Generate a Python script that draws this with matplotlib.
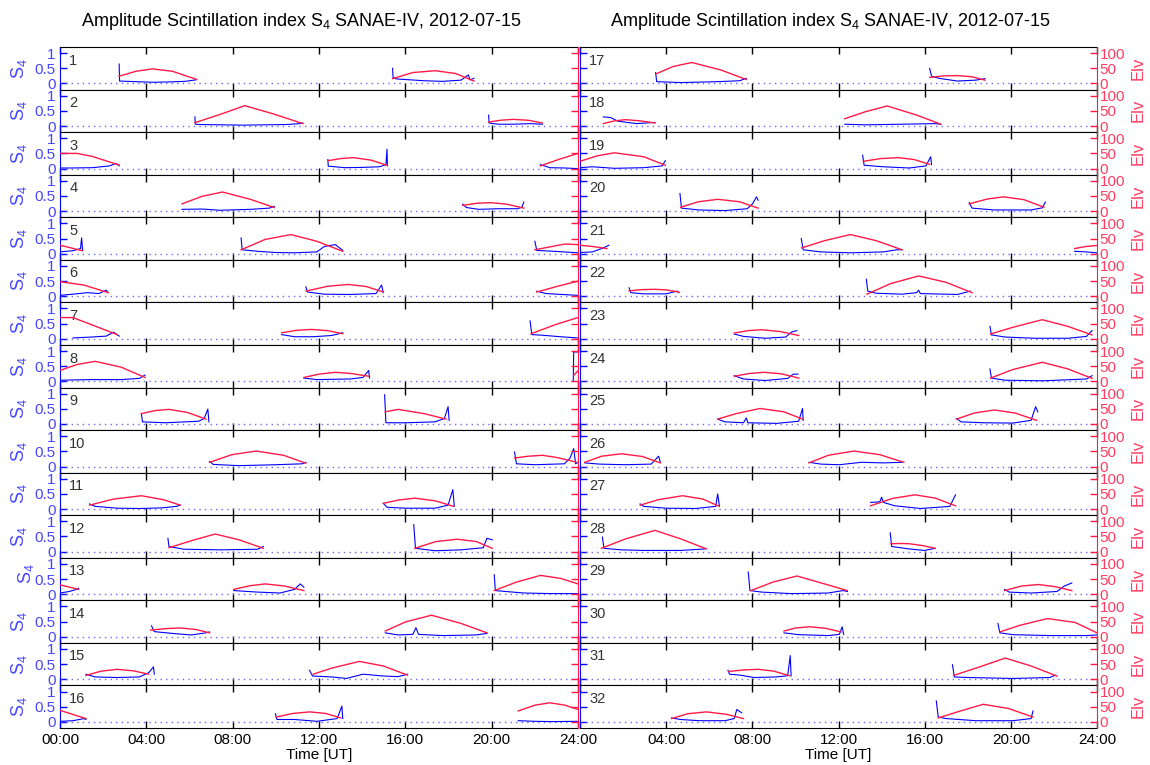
import matplotlib
matplotlib.use("Agg")
import matplotlib.pyplot as plt

plt.rcParams["font.family"] = ["Liberation Sans", "DejaVu Sans"]
plt.rcParams["mathtext.default"] = "regular"

# --- data: one entry per satellite (PRN 1..32), one sub-list per pass
elv_hours = [
    [[2.74, 3.51, 4.28, 5.22, 6.34], [15.41, 16.35, 17.38, 18.32, 19.18]],
    [[6.25, 7.45, 8.56, 9.93, 11.25], [19.86, 20.4, 20.98, 21.7, 22.35]],
    [[0, 0.8, 1.5, 2.2, 2.74], [12.41, 13.0, 13.61, 14.4, 15.15], [22.26, 23.1, 24]],
    [[5.65, 6.59, 7.53, 8.82, 9.93], [18.66, 19.3, 19.95, 20.7, 21.49]],
    [[0, 1.03], [8.39, 9.5, 10.7, 11.9, 13.1], [22.0, 23.4, 24]],
    [[0, 1.11, 2.23], [11.39, 12.4, 13.36, 14.2, 14.98], [22.09, 23.0, 24]],
    [[0, 0.6, 1.63, 2.65], [10.27, 10.95, 11.64, 12.4, 13.1], [21.83, 23.0, 24]],
    [[0, 0.8, 1.63, 2.83, 3.94], [11.3, 12.0, 12.76, 13.5, 14.3], [23.8, 24.0]],
    [[3.77, 4.4, 5.05, 5.9, 6.76], [15.07, 15.67, 16.87, 17.89]],
    [[6.93, 7.96, 9.08, 10.36, 11.39], [21.06, 21.7, 22.35, 23.0, 23.9]],
    [[1.37, 2.48, 3.77, 4.79, 5.57], [14.98, 15.7, 16.44, 17.4, 18.24]],
    [[5.05, 6.08, 7.19, 8.3, 9.42], [16.44, 17.4, 18.41, 19.3, 20.03]],
    [[0, 0.86], [8.05, 8.8, 9.5, 10.4, 11.3], [20.12, 21.15, 22.26, 23.2, 24]],
    [[4.2, 4.9, 5.57, 6.3, 6.93], [15.07, 16.01, 17.21, 18.58, 19.78]],
    [[1.2, 1.9, 2.65, 3.4, 4.11], [11.73, 12.59, 13.87, 14.98, 16.1]],
    [[0, 1.2], [10.02, 10.8, 11.56, 12.3, 13.01], [21.23, 22.0, 22.69, 23.4, 24]],
    [[3.51, 4.33, 5.19, 6.56, 7.72], [16.23, 16.9, 17.52, 18.2, 18.8]],
    [[1.08, 1.6, 2.11, 2.8, 3.48], [12.29, 13.24, 14.26, 15.63, 16.75]],
    [[0, 0.8, 1.59, 2.96, 3.96], [13.15, 13.95, 14.78, 15.5, 16.23]],
    [[4.67, 5.5, 6.39, 7.4, 8.27], [18.07, 18.9, 19.66, 20.6, 21.54]],
    [[0, 0.57, 1.25], [10.29, 11.35, 12.55, 13.75, 14.95], [22.96, 23.5, 24]],
    [[2.28, 2.9, 3.48, 4.0, 4.59], [13.32, 14.43, 15.72, 16.99, 18.2]],
    [[7.16, 7.8, 8.44, 9.3, 10.15], [19.06, 20.09, 21.46, 22.65, 23.77]],
    [[7.16, 7.85, 8.53, 9.35, 10.15], [19.06, 20.09, 21.46, 22.65, 23.77]],
    [[6.39, 7.24, 8.36, 9.47, 10.33], [17.48, 18.3, 19.23, 20.2, 21.2]],
    [[0.22, 1.0, 1.93, 2.9, 3.73], [10.63, 11.52, 12.72, 13.92, 15.03]],
    [[2.79, 3.64, 4.76, 5.7, 6.47], [13.49, 14.5, 15.55, 16.5, 17.43]],
    [[0.99, 2.11, 3.48, 4.68, 5.87], [14.43, 14.9, 15.29, 15.9, 16.49]],
    [[7.93, 8.96, 10.07, 11.35, 12.41], [19.71, 20.5, 21.28, 22.05, 22.83]],
    [[9.47, 10.0, 10.67, 11.4, 12.12], [19.49, 20.43, 21.71, 22.99, 24]],
    [[6.9, 7.6, 8.27, 9.0, 9.73], [17.35, 18.55, 19.74, 20.94, 22.14]],
    [[4.25, 5.0, 5.87, 6.8, 7.59], [16.63, 17.52, 18.72, 19.9, 21.03]],
]
elv_deg = [
    [[24, 40, 48, 40, 13], [16, 36, 42, 33, 8]],
    [[11, 39, 67, 39, 8], [13, 19, 22, 19, 10]],
    [[50, 50, 40, 24, 12], [26, 33, 36, 28, 11], [9, 30, 50]],
    [[24, 49, 63, 39, 12], [19, 26, 28, 23, 10]],
    [[28, 10], [13, 47, 63, 41, 8], [13, 32, 30]],
    [[48, 37, 12], [17, 33, 39, 32, 14], [14, 32, 50]],
    [[70, 70, 42, 14], [20, 28, 31, 27, 17], [17, 48, 70]],
    [[36, 56, 66, 47, 13], [13, 24, 30, 26, 17], [20, 35]],
    [[34, 44, 48, 38, 16], [40, 48, 34, 16]],
    [[14, 39, 51, 37, 11], [28, 34, 37, 30, 15]],
    [[13, 33, 44, 31, 13], [19, 30, 36, 27, 9]],
    [[13, 36, 58, 39, 11], [11, 33, 41, 33, 11]],
    [[31, 16], [16, 28, 34, 27, 12], [12, 40, 62, 52, 34]],
    [[22, 27, 29, 24, 13], [19, 49, 71, 44, 13]],
    [[13, 27, 33, 28, 17], [17, 37, 59, 44, 14]],
    [[38, 11], [16, 28, 33, 28, 13], [36, 55, 63, 55, 41]],
    [[31, 56, 69, 44, 13], [20, 25, 26, 22, 11]],
    [[8, 17, 21, 17, 10], [24, 47, 66, 36, 6]],
    [[24, 42, 52, 39, 11], [24, 33, 36, 30, 14]],
    [[13, 31, 39, 31, 10], [24, 40, 47, 38, 13]],
    [[28, 24, 17], [19, 43, 63, 43, 13], [17, 24, 27]],
    [[18, 22, 23, 21, 14], [7, 42, 67, 46, 12]],
    [[19, 27, 30, 24, 11], [16, 38, 63, 41, 13]],
    [[17, 26, 30, 25, 11], [11, 39, 63, 41, 10]],
    [[16, 34, 51, 40, 16], [16, 36, 46, 36, 12]],
    [[14, 34, 42, 33, 12], [12, 37, 51, 39, 14]],
    [[13, 31, 44, 33, 9], [11, 35, 47, 36, 11]],
    [[11, 42, 70, 42, 9], [26, 27, 26, 20, 11]],
    [[12, 40, 60, 34, 12], [12, 27, 32, 25, 12]],
    [[19, 29, 33, 28, 16], [16, 38, 60, 47, 13]],
    [[26, 31, 33, 27, 12], [13, 41, 70, 44, 11]],
    [[11, 27, 33, 25, 11], [13, 33, 58, 44, 16]],
]
s4_hours = [
    [[2.74, 2.76, 3.5, 4.3, 5.0, 5.8, 6.3],
     [15.41, 15.43, 15.58, 16.01, 16.87, 17.72, 18.58, 18.92, 19.0, 19.18]],
    [[6.25, 6.27, 6.5, 7.5, 8.5, 9.5, 10.5, 11.1, 11.25], [19.86, 19.88, 20.3, 21.0, 21.8, 22.35]],
    [[0, 0.5, 1.5, 2.3, 2.6, 2.74], [12.41, 12.43, 13.2, 14.0, 14.8, 15.1, 15.15, 15.17],
     [22.26, 22.7, 23.4, 24]],
    [[5.65, 6.59, 7.4, 8.82, 9.7, 9.93], [18.66, 18.83, 19.4, 20.3, 21.2, 21.4, 21.49]],
    [[0, 0.6, 0.95, 1.0, 1.05], [8.39, 8.44, 9.16, 10.0, 10.87, 11.9, 12.25, 12.76, 13.1],
     [22.0, 22.09, 22.9, 24]],
    [[0, 0.6, 1.28, 1.8, 2.14, 2.23], [11.39, 11.47, 12.24, 13.44, 14.64, 14.9, 14.98],
     [22.09, 22.52, 24]],
    [[0.6, 1.45, 2.14, 2.48, 2.74], [10.27, 10.87, 11.73, 12.59, 13.1],
     [21.78, 21.86, 22.33, 23.19, 24]],
    [[0, 1.46, 2.83, 3.68, 3.94], [11.3, 11.9, 13.44, 14.04, 14.3, 14.34], [23.78, 23.8, 23.98]],
    [[3.77, 3.82, 4.88, 6.42, 6.68, 6.85, 6.9], [15.04, 15.1, 16.01, 17.38, 17.81, 17.98, 18.03]],
    [[6.93, 7.1, 8.3, 10.0, 11.22, 11.39], [21.06, 21.15, 22.0, 23.37, 23.63, 23.8, 23.89, 24.0]],
    [[1.37, 1.63, 2.65, 3.68, 4.71, 5.39, 5.57], [14.98, 15.15, 16.01, 17.38, 17.98, 18.2, 18.27]],
    [[5.0, 5.05, 5.74, 7.45, 9.16, 9.42], [16.39, 16.47, 17.38, 18.58, 19.61, 19.78, 20.03]],
    [[0, 0.43, 0.77, 0.86], [8.05, 9.16, 10.19, 10.87, 11.13, 11.3],
     [20.12, 20.17, 20.65, 21.49, 22.86, 24]],
    [[4.24, 4.37, 5.22, 6.08, 6.76, 6.93], [15.07, 15.67, 16.35, 16.49, 16.61, 17.72, 19.26, 19.78]],
    [[1.2, 1.63, 2.65, 3.68, 4.11, 4.33, 4.37], [11.56, 11.7, 12.59, 13.27, 14.04, 14.98, 15.67, 16.1]],
    [[0, 0.6, 1.11, 1.2], [9.98, 10.05, 10.87, 11.9, 12.84, 13.06, 13.1], [21.23, 22.0, 22.86, 24]],
    [[3.51, 3.56, 4.68, 6.39, 7.41, 7.72], [16.23, 16.32, 16.66, 17.52, 18.37, 18.8]],
    [[1.08, 1.42, 1.76, 2.62, 3.48], [12.29, 13.24, 14.95, 16.49, 16.75]],
    [[0, 0.57, 1.59, 2.96, 3.82, 3.96], [13.12, 13.19, 14.09, 15.29, 16.06, 16.28, 16.32]],
    [[4.64, 4.71, 5.53, 6.73, 7.76, 8.01, 8.19, 8.27], [18.07, 18.2, 19.23, 20.94, 21.46, 21.6]],
    [[0, 0.57, 1.08, 1.34], [10.27, 10.36, 11.18, 12.55, 14.09, 14.69, 14.95], [22.96, 23.5, 24]],
    [[2.28, 2.36, 2.96, 3.99, 4.5, 4.59],
     [13.29, 13.36, 13.75, 14.95, 15.63, 15.72, 15.8, 17.52, 18.12]],
    [[7.16, 7.59, 8.61, 9.55, 9.81, 10.07], [19.03, 19.1, 19.73, 21.1, 22.65, 23.51, 23.77]],
    [[7.16, 7.59, 8.61, 9.64, 9.9, 10.12], [19.03, 19.1, 19.73, 21.46, 23.51, 23.77]],
    [[6.39, 6.73, 7.59, 7.72, 7.79, 9.13, 10.15, 10.33, 10.36],
     [17.48, 17.69, 18.73, 20.09, 20.94, 21.15, 21.25]],
    [[0.22, 0.91, 2.11, 3.3, 3.65, 3.73], [10.63, 11.18, 12.04, 13.07, 14.09, 14.95]],
    [[2.79, 2.96, 3.99, 5.36, 6.3, 6.39, 6.47], [13.49, 13.92, 14.0, 14.09, 14.6, 15.81, 17.17, 17.43]],
    [[1.04, 1.11, 1.93, 2.96, 4.68, 5.79], [14.4, 14.47, 15.29, 15.98, 16.49]],
    [[7.81, 7.89, 8.44, 9.81, 11.52, 12.21, 12.41], [19.71, 19.92, 20.94, 22.14, 22.48, 22.83]],
    [[9.47, 10.15, 11.52, 12.04, 12.17, 12.24], [19.4, 19.49, 20.09, 21.8, 23.51, 24]],
    [[6.87, 6.94, 7.41, 8.1, 9.13, 9.64, 9.76, 9.8], [17.29, 17.38, 18.03, 20.09, 21.8, 22.05]],
    [[4.25, 4.67, 5.53, 6.73, 7.16, 7.28, 7.5], [16.54, 16.63, 17.0, 18.37, 20.09, 20.94, 21.03]],
]
s4_index = [
    [[0.64, 0.08, 0.06, 0.04, 0.05, 0.07, 0.12],
     [0.5, 0.2, 0.15, 0.13, 0.09, 0.07, 0.11, 0.28, 0.12, 0.17]],
    [[0.3, 0.06, 0.05, 0.04, 0.03, 0.04, 0.05, 0.08, 0.1], [0.36, 0.1, 0.06, 0.06, 0.08, 0.06]],
    [[0.02, 0.02, 0.03, 0.09, 0.17, 0.09], [0.3, 0.08, 0.03, 0.04, 0.06, 0.13, 0.64, 0.09],
     [0.13, 0.03, 0.02, 0.0]],
    [[0.06, 0.07, 0.03, 0.06, 0.1, 0.16], [0.23, 0.12, 0.06, 0.08, 0.08, 0.13, 0.3]],
    [[0.06, 0.1, 0.17, 0.52, 0.1], [0.52, 0.13, 0.08, 0.04, 0.03, 0.06, 0.24, 0.3, 0.11],
     [0.41, 0.11, 0.08, 0.03]],
    [[0.03, 0.07, 0.12, 0.09, 0.2, 0.12], [0.31, 0.14, 0.07, 0.06, 0.09, 0.37, 0.12],
     [0.17, 0.09, 0.03]],
    [[0.03, 0.06, 0.09, 0.22, 0.09], [0.14, 0.07, 0.07, 0.11, 0.2], [0.59, 0.14, 0.12, 0.07, 0.03]],
    [[0.04, 0.06, 0.06, 0.1, 0.21], [0.11, 0.06, 0.08, 0.13, 0.36, 0.11], [0.0, 0.97, 0.97]],
    [[0.34, 0.07, 0.04, 0.09, 0.18, 0.49, 0.07], [0.96, 0.04, 0.04, 0.07, 0.18, 0.57, 0.12]],
    [[0.17, 0.07, 0.03, 0.06, 0.09, 0.14], [0.48, 0.09, 0.06, 0.09, 0.28, 0.59, 0.09, 0.14]],
    [[0.17, 0.09, 0.03, 0.02, 0.04, 0.09, 0.13], [0.19, 0.06, 0.03, 0.03, 0.13, 0.64, 0.09]],
    [[0.44, 0.17, 0.08, 0.06, 0.08, 0.17], [0.89, 0.11, 0.03, 0.06, 0.13, 0.44, 0.39]],
    [[0.04, 0.09, 0.16, 0.2], [0.12, 0.07, 0.04, 0.16, 0.34, 0.23],
     [0.64, 0.12, 0.09, 0.04, 0.02, 0.02]],
    [[0.36, 0.17, 0.11, 0.06, 0.13, 0.16], [0.13, 0.06, 0.08, 0.3, 0.08, 0.04, 0.06, 0.11]],
    [[0.17, 0.08, 0.06, 0.08, 0.22, 0.41, 0.17], [0.3, 0.11, 0.08, 0.03, 0.17, 0.11, 0.09, 0.17]],
    [[0.02, 0.04, 0.11, 0.08], [0.27, 0.08, 0.08, 0.02, 0.11, 0.52, 0.11], [0.04, 0.02, 0.01, 0.02]],
    [[0.36, 0.06, 0.03, 0.06, 0.09, 0.17], [0.5, 0.24, 0.17, 0.08, 0.11, 0.16]],
    [[0.3, 0.28, 0.16, 0.08, 0.12], [0.06, 0.04, 0.06, 0.08, 0.06]],
    [[0.03, 0.06, 0.01, 0.03, 0.09, 0.26], [0.44, 0.11, 0.06, 0.02, 0.09, 0.39, 0.13]],
    [[0.58, 0.1, 0.04, 0.02, 0.08, 0.24, 0.47, 0.36], [0.28, 0.1, 0.04, 0.04, 0.11, 0.3]],
    [[0.04, 0.06, 0.19, 0.28], [0.5, 0.13, 0.06, 0.03, 0.06, 0.13, 0.13], [0.08, 0.06, 0.03]],
    [[0.28, 0.12, 0.08, 0.08, 0.17, 0.12], [0.56, 0.17, 0.1, 0.07, 0.12, 0.2, 0.09, 0.06, 0.17]],
    [[0.16, 0.08, 0.02, 0.06, 0.22, 0.27], [0.41, 0.13, 0.06, 0.02, 0.02, 0.08, 0.27]],
    [[0.19, 0.08, 0.03, 0.1, 0.24, 0.24], [0.41, 0.11, 0.04, 0.02, 0.08, 0.19]],
    [[0.16, 0.07, 0.04, 0.2, 0.04, 0.02, 0.09, 0.51, 0.12], [0.18, 0.07, 0.04, 0.03, 0.12, 0.57, 0.4]],
    [[0.12, 0.08, 0.06, 0.08, 0.34, 0.14], [0.14, 0.08, 0.06, 0.14, 0.12, 0.14]],
    [[0.17, 0.09, 0.03, 0.02, 0.09, 0.5, 0.11], [0.22, 0.24, 0.39, 0.22, 0.11, 0.02, 0.09, 0.47]],
    [[0.48, 0.11, 0.06, 0.04, 0.04, 0.09], [0.62, 0.17, 0.09, 0.04, 0.11]],
    [[0.73, 0.12, 0.07, 0.02, 0.04, 0.12, 0.09], [0.16, 0.07, 0.04, 0.09, 0.27, 0.37]],
    [[0.13, 0.07, 0.04, 0.08, 0.33, 0.08], [0.44, 0.13, 0.07, 0.04, 0.04, 0.06]],
    [[0.3, 0.17, 0.14, 0.06, 0.08, 0.12, 0.78, 0.11], [0.48, 0.08, 0.06, 0.03, 0.06, 0.13]],
    [[0.13, 0.08, 0.04, 0.04, 0.11, 0.41, 0.3], [0.69, 0.16, 0.11, 0.04, 0.04, 0.11, 0.36]],
]

hour_ticks = [0, 4, 8, 12, 16, 20, 24]
hour_labels = ["00:00", "04:00", "08:00", "12:00", "16:00", "20:00", "24:00"]
TITLE = "Amplitude Scintillation index S$_4$ SANAE-IV, 2012-07-15"

BLUE = "#0000ff"
BLUE_TXT = "#4646ff"
RED = "#ff1a48"
RED_TXT = "#ff3d62"

W, H = 1150, 765
fig = plt.figure(figsize=(W / 100, H / 100), dpi=100)

col_x = [60 / W, 580 / W]
col_w = [518 / W, 517 / W]
title_x = [302 / W, 831 / W]
top_px, bot_px = 47, 728
row_h = (bot_px - top_px) / 16 / H

for k in range(32):
    col, row = divmod(k, 16)
    y0 = 1 - top_px / H - (row + 1) * row_h
    ax = fig.add_axes([col_x[col], y0, col_w[col], row_h])
    ax2 = ax.twinx()

    ax.axhline(0, color="#6a6aff", lw=1.0, dashes=(1, 3))
    for t, v in zip(s4_hours[k], s4_index[k]):
        ax.plot(t, v, color=BLUE, lw=0.8)
    for t, v in zip(elv_hours[k], elv_deg[k]):
        ax2.plot(t, v, color=RED, lw=1.0)

    ax.set_xlim(0, 24)
    ax.set_ylim(-0.2, 1.2)
    ax2.set_ylim(-20, 120)
    ax.set_xticks(hour_ticks)
    ax.set_yticks([0, 0.5, 1])
    ax.set_yticklabels(["0", "0.5", "1"])
    ax2.set_yticks([0, 50, 100])

    ax.tick_params(axis="x", direction="in", top=True, bottom=True, length=5,
                   width=1, labelsize=11, labelbottom=(row == 15))
    ax.tick_params(axis="y", direction="in", length=5, width=1, colors=BLUE,
                   labelcolor=BLUE_TXT, labelsize=11, pad=3, labelleft=(col == 0))
    ax2.tick_params(axis="y", direction="in", length=5, width=1, colors=RED,
                    labelcolor=RED_TXT, labelsize=11, pad=2, labelright=(col == 1))
    if row == 15:
        # the middle boundary shows only "24:00" from the left column
        labels = hour_labels if col == 0 else [""] + hour_labels[1:]
        ax.set_xticklabels(labels)
        ax.set_xlabel("Time [UT]", fontsize=11, labelpad=1)

    for s in ("top", "bottom"):
        ax.spines[s].set_color("black")
        ax2.spines[s].set_visible(False)
    ax.spines["left"].set_color(BLUE)
    ax.spines["right"].set_visible(False)
    ax2.spines["left"].set_visible(False)
    ax2.spines["right"].set_color(RED)

    ax.text(0.018, 0.68, str(k + 1), transform=ax.transAxes, fontsize=10.5,
            color="#333333", va="center", ha="left")

    if col == 0:
        ax.set_ylabel("S$_4$", color=BLUE_TXT, fontsize=13)
        if k == 12:
            ax.yaxis.set_label_coords(-0.046, 0.62)
        else:
            ax.yaxis.set_label_coords(-0.06, 0.5)
    else:
        ax2.set_ylabel("Elv", color=RED_TXT, fontsize=12)
        ax2.yaxis.set_label_coords(1.066, 0.5)

for col in range(2):
    fig.text(title_x[col], 1 - 22 / H, TITLE, ha="center", va="center", fontsize=13)

fig.savefig("out.png", dpi=100)
